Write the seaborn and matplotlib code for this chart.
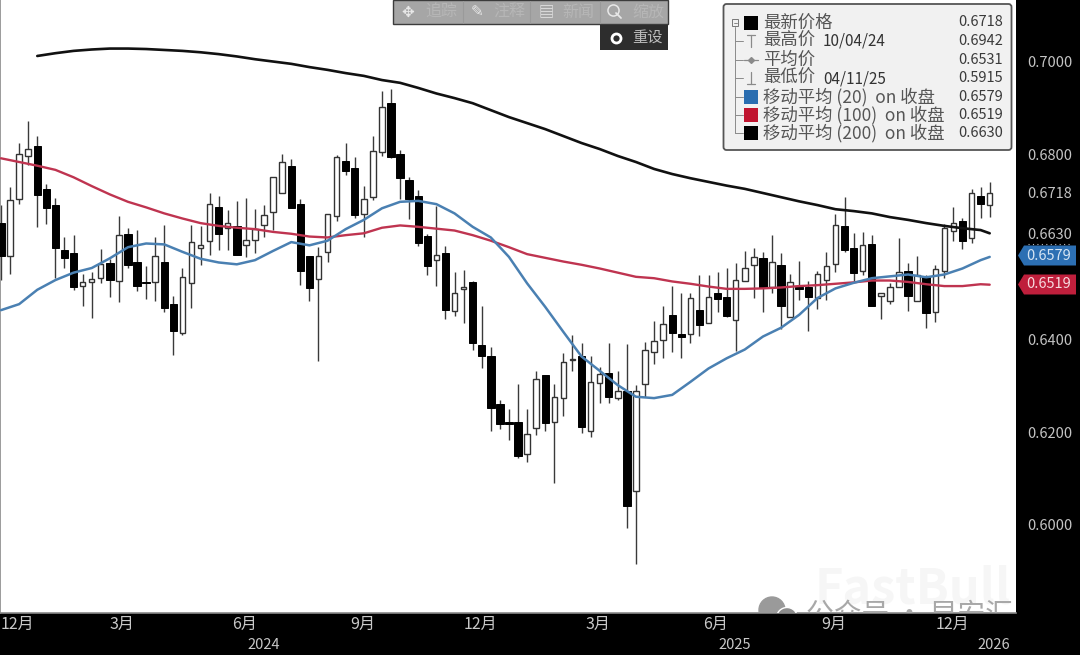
import matplotlib
matplotlib.use("Agg")
import matplotlib.pyplot as plt
import numpy as np
import pandas as pd
import seaborn as sns
from matplotlib.patches import Rectangle, Polygon, FancyBboxPatch, Circle

# ---------- data (weekly candles) ----------
open_ = [
 .6652,.6582,.6705,.6797,.6819,.6726,.6691,.6594,.6587,.6517,
 .6524,.6534,.6565,.6527,.6628,.6569,.6525,.6524,.6569,.6477,
 .6415,.6522,.6599,.6614,.6686,.6641,.6646,.6604,.6616,.6648,
 .6675,.6718,.6775,.6693,.6580,.6532,.6589,.6668,.6786,.6772,
 .6671,.6708,.6805,.6912,.6801,.6745,.6710,.6624,.6572,.6587,
 .6462,.6509,.6525,.6388,.6364,.6261,.6222,.6222,.6153,.6209,
 .6324,.6222,.6274,.6356,.6366,.6202,.6306,.6328,.6275,.6290,
 .6074,.6304,.6373,.6399,.6453,.6413,.6412,.6464,.6437,.6500,
 .6493,.6443,.6528,.6561,.6577,.6513,.6562,.6450,.6513,.6515,
 .6490,.6529,.6564,.6646,.6599,.6548,.6607,.6494,.6483,.6515,
 .6549,.6484,.6535,.6459,.6549,.6634,.6656,.6619,.6711,.6691]
close = [
 .6580,.6701,.6801,.6813,.6713,.6685,.6599,.6576,.6515,.6525,
 .6532,.6564,.6529,.6626,.6562,.6516,.6522,.6580,.6469,.6420,
 .6535,.6611,.6604,.6694,.6628,.6653,.6583,.6616,.6639,.6670,
 .6751,.6785,.6685,.6549,.6511,.6580,.6671,.6795,.6765,.6669,
 .6705,.6808,.6902,.6794,.6750,.6705,.6608,.6559,.6584,.6464,
 .6502,.6515,.6392,.6364,.6253,.6218,.6219,.6148,.6197,.6316,
 .6221,.6276,.6353,.6359,.6211,.6308,.6326,.6276,.6289,.6042,
 .6290,.6378,.6398,.6435,.6414,.6407,.6490,.6432,.6492,.6489,
 .6451,.6529,.6556,.6579,.6512,.6567,.6474,.6525,.6510,.6492,
 .6542,.6559,.6649,.6594,.6544,.6604,.6474,.6500,.6515,.6546,
 .6495,.6541,.6457,.6552,.6641,.6652,.6614,.6716,.6693,.6718]
high = [
 .6691,.6731,.6826,.6873,.6840,.6736,.6707,.6623,.6626,.6542,
 .6547,.6597,.6574,.6668,.6641,.6637,.6560,.6623,.6647,.6495,
 .6554,.6649,.6646,.6716,.6711,.6680,.6700,.6707,.6682,.6691,
 .6752,.6801,.6790,.6704,.6580,.6601,.6672,.6799,.6826,.6795,
 .6733,.6840,.6937,.6942,.6810,.6752,.6723,.6628,.6689,.6603,
 .6547,.6551,.6526,.6473,.6385,.6271,.6250,.6304,.6250,.6333,
 .6324,.6304,.6371,.6410,.6392,.6365,.6342,.6392,.6333,.6391,
 .6302,.6396,.6441,.6473,.6517,.6502,.6500,.6540,.6540,.6547,
 .6554,.6565,.6592,.6598,.6590,.6626,.6587,.6542,.6570,.6526,
 .6549,.6590,.6671,.6709,.6630,.6632,.6626,.6500,.6523,.6619,
 .6565,.6582,.6540,.6562,.6651,.6686,.6662,.6725,.6729,.6741]
low = [
 .6529,.6543,.6693,.6777,.6644,.6650,.6533,.6556,.6507,.6472,
 .6446,.6523,.6492,.6482,.6556,.6505,.6488,.6484,.6461,.6367,
 .6410,.6469,.6562,.6583,.6595,.6594,.6583,.6578,.6588,.6623,
 .6637,.6716,.6684,.6518,.6484,.6355,.6569,.6657,.6756,.6662,
 .6623,.6702,.6796,.6792,.6705,.6660,.6603,.6541,.6516,.6444,
 .6451,.6437,.6378,.6340,.6204,.6207,.6184,.6144,.6137,.6194,
 .6204,.6091,.6235,.6333,.6198,.6191,.6263,.6263,.6269,.5993,
 .5915,.6277,.6347,.6360,.6374,.6360,.6394,.6409,.6436,.6461,
 .6450,.6376,.6528,.6490,.6459,.6502,.6423,.6450,.6487,.6420,
 .6466,.6486,.6546,.6589,.6526,.6541,.6474,.6444,.6477,.6513,
 .6462,.6483,.6425,.6439,.6534,.6613,.6596,.6610,.6664,.6666]

ma20_week = list(range(0, 110, 2)) + [109]
ma20 = [.6464,.6477,.6508,.6529,.6545,.6555,.6576,.6600,.6608,.6606,
        .6590,.6575,.6567,.6563,.6572,.6592,.6611,.6604,.6614,.6639,
        .6659,.6684,.6698,.6700,.6693,.6673,.6644,.6621,.6579,.6522,
        .6471,.6417,.6364,.6333,.6302,.6277,.6274,.6281,.6309,.6338,
        .6360,.6379,.6407,.6426,.6454,.6490,.6511,.6523,.6533,.6537,
        .6541,.6535,.6541,.6554,.6572,.6579]
ma100_week = list(range(0, 110, 2)) + [109]
ma100 = [.6792,.6784,.6776,.6767,.6751,.6732,.6714,.6698,.6686,.6673,
         .6662,.6652,.6646,.6642,.6639,.6633,.6629,.6623,.6621,.6626,
         .6630,.6642,.6647,.6644,.6640,.6636,.6626,.6614,.6600,.6585,
         .6577,.6569,.6562,.6554,.6545,.6536,.6533,.6526,.6521,.6515,
         .6510,.6510,.6511,.6513,.6516,.6518,.6521,.6524,.6528,.6528,
         .6525,.6520,.6516,.6516,.6520,.6519]
ma200_week = list(range(4, 110, 2)) + [109]
ma200 = [.7013,.7019,.7024,.7027,.7029,.7029,.7028,.7026,.7024,.7021,
         .7017,.7012,.7006,.7001,.6996,.6989,.6983,.6976,.6970,.6961,
         .6955,.6944,.6932,.6922,.6911,.6896,.6881,.6868,.6855,.6840,
         .6825,.6812,.6797,.6784,.6769,.6758,.6749,.6741,.6733,.6726,
         .6717,.6708,.6699,.6691,.6682,.6678,.6673,.6665,.6659,.6652,
         .6646,.6641,.6637,.6630]

price_ticks = [0.7000, 0.6800, 0.6718, 0.6630, 0.6400, 0.6200, 0.6000]
month_labels = ["12月", "3月", "6月", "9月", "12月", "3月", "6月", "9月", "12月"]
month_weeks = [1.76, 13.34, 26.9, 39.9, 52.9, 65.8, 78.8, 91.8, 104.9]
year_labels = ["2024", "2025", "2026"]
year_weeks = [29.0, 80.9, 109.5]

legend_rows = [("最新价格", "", "0.6718"), ("最高价", "10/04/24", "0.6942"),
               ("平均价", "", "0.6531"), ("最低价", "04/11/25", "0.5915"),
               ("移动平均 (20)  on 收盘", "", "0.6579"),
               ("移动平均 (100)  on 收盘", "", "0.6519"),
               ("移动平均 (200)  on 收盘", "", "0.6630")]
BLUE, RED, BLACK = "#4a80b2", "#bf3450", "#111111"

# ---------- figure ----------
sns.set_theme(style="white")
plt.rcParams["font.family"] = ["Noto Sans CJK SC", "DejaVu Sans"]
W, H = 1080, 655
fig = plt.figure(figsize=(W / 100, H / 100), dpi=100, facecolor="black")
ax = fig.add_axes([0, 42 / H, 1016 / W, 613 / H], facecolor="white")

df = pd.DataFrame({"open": open_, "close": close, "high": high, "low": low})
df["week"] = np.arange(len(df))
up = df[df.close >= df.open]
down = df[df.close < df.open]

ax.vlines(df.week, df.low, df.high, color="#3a3a3a", lw=1.0, zorder=2)
ax.bar(down.week, (down.open - down.close), bottom=down.close, width=0.82,
       color="black", edgecolor="black", lw=0.7, zorder=3)
ax.bar(up.week, (up.close - up.open), bottom=up.open, width=0.60,
       color="white", edgecolor="#333333", lw=1.0, zorder=3)

for wk, vals, col, lw in [(ma200_week, ma200, BLACK, 1.9), (ma100_week, ma100, RED, 1.7),
                          (ma20_week, ma20, BLUE, 1.8)]:
    sns.lineplot(data=pd.DataFrame({"week": wk, "ma": vals}), x="week", y="ma", ax=ax,
                 color=col, lw=lw, errorbar=None, zorder=4, solid_joinstyle="round")

ax.set_xlim(-0.11, 111.9)
ax.set_ylim(0.58099, 0.71339)
ax.set_xlabel("")
ax.set_ylabel("")
ax.yaxis.tick_right()
ax.set_yticks(price_ticks)
ax.set_yticklabels([f"{v:.4f}" for v in price_ticks], color="#c4c4c4", fontsize=10.5)
ax.set_xticks(month_weeks)
ax.set_xticklabels(month_labels, color="#c8c8c8", fontsize=11.5)
ax.set_xticks(year_weeks, minor=True)
ax.set_xticklabels(year_labels, minor=True, color="#c8c8c8", fontsize=10.5)
ax.tick_params(axis="y", length=0, pad=8)
ax.tick_params(axis="x", which="major", length=0, pad=2)
ax.tick_params(axis="x", which="minor", length=0, pad=18)
for s in ["top", "right"]:
    ax.spines[s].set_visible(False)
for s in ["left", "bottom"]:
    ax.spines[s].set_color("#8a8a8a")
    ax.spines[s].set_linewidth(1.2)

# overlay in pixel coordinates for the chart furniture
ov = fig.add_axes([0, 0, 1, 1], facecolor="none", zorder=5)
ov.set_xlim(0, W)
ov.set_ylim(H, 0)
ov.axis("off")

# watermark
ax.text(815, 589, "FastBull", transform=ov.transData, color="#f6f6f6", fontsize=35,
        fontweight="bold", va="center", ha="left", clip_on=True, zorder=1)
ax.add_patch(Circle((772, 610), 13, transform=ov.transData, color="#9a9a9a", zorder=5))
ax.add_patch(Circle((787, 618), 10.5, transform=ov.transData, color="#8c8c8c", ec="white", zorder=5))
ax.text(806, 615, "公众号 · 早安汇", transform=ov.transData, color="#a8a8a8", fontsize=20,
        va="center", ha="left", clip_on=True, zorder=5)

# right panel tags
ov.plot([1028, 1072], [244, 244], color="#bbbbbb", lw=0.8, ls=(0, (1, 3)))
for y, face, txt, fc in [(255.5, "#2c6fb3", "0.6579", "#d5e4f3"), (284.5, "#bf1f3c", "0.6519", "#f6d9de")]:
    ov.add_patch(Polygon([(1018, y), (1024, y - 10), (1076, y - 10), (1076, y + 10), (1024, y + 10)],
                         closed=True, fc=face, ec="none"))
    ov.text(1026, y, txt, color=fc, fontsize=10.5, va="center", ha="left")

# toolbar
ov.add_patch(Rectangle((393, 0), 275, 24, fc="#a6a6a6", ec="#3c3c3c", lw=1))
for x in [463, 530, 600]:
    ov.plot([x, x], [1, 23], color="#9a9a9a", lw=0.8)
for x_icon, icon, x_txt, txt in [(408, "✥", 425, "追踪"), (477, "✎", 493, "注释"),
                                 (546, "▤", 562, "新闻")]:
    ov.text(x_icon, 12, icon, color="#e8e8e8", fontsize=11, ha="center", va="center")
    ov.text(x_txt, 12, txt, color="#b6b6b6", fontsize=11.5, ha="left", va="center")
ov.plot([613], [10], marker="o", ms=8, mfc="none", mec="#e8e8e8", mew=1.1)
ov.plot([616, 621], [13, 18], color="#e8e8e8", lw=1.3)
ov.text(632, 12, "缩放", color="#b6b6b6", fontsize=11.5, ha="left", va="center")
ov.add_patch(Rectangle((600, 25), 68, 25, fc="#2d2d2d", ec="none"))
ov.plot([616], [37.5], marker="o", ms=6.5, mfc="#2d2d2d", mec="white", mew=2)
ov.text(632, 37.5, "重设", color="#bcbcbc", fontsize=11, ha="left", va="center")

# legend box
ov.add_patch(FancyBboxPatch((723.5, 4), 288, 146, boxstyle="round,pad=0,rounding_size=3",
                            fc="#f1f1f1", ec="#555555", lw=1.3))
rows_y = [22.5, 41, 60, 78, 97, 115, 133]
swatches = {0: "black", 4: "#2a6db0", 5: "#c0142f", 6: "black"}
ov.plot([735, 735], [27, 133], color="#8a8a8a", lw=0.7)
ov.add_patch(Rectangle((732, 19), 6, 7, fc="#f1f1f1", ec="#777777", lw=0.7, zorder=3))
ov.plot([733.5, 736.5], [22.5, 22.5], color="#777777", lw=0.6, zorder=4)
for i, (name, date, val) in enumerate(legend_rows):
    y = rows_y[i]
    if i:
        ov.plot([735, 743], [y, y], color="#8a8a8a", lw=0.7)
    if i in swatches:
        ov.add_patch(Rectangle((743.5, y - 7), 14, 14, fc=swatches[i], ec="none", zorder=3))
    ov.text(763, y, name, color="#555555", fontsize=12.5, va="center", ha="left")
    if date:
        ov.text(823, y + 0.5, date, color="#333333", fontsize=11, va="center", ha="left")
    ov.text(1003, y, val, color="#3a3a3a", fontsize=10.5, va="center", ha="right")
# high / mean / low glyphs
ov.plot([751, 751], [35, 47], color="#8a8a8a", lw=0.9)
ov.plot([747, 755], [35, 35], color="#8a8a8a", lw=0.9)
ov.plot([744, 758], [60, 60], color="#8a8a8a", lw=0.9)
ov.plot([751], [60], marker="D", ms=3, color="#8a8a8a")
ov.plot([751, 751], [72, 84], color="#8a8a8a", lw=0.9)
ov.plot([747, 755], [84, 84], color="#8a8a8a", lw=0.9)

fig.savefig("out.png", dpi=100, facecolor=fig.get_facecolor())
